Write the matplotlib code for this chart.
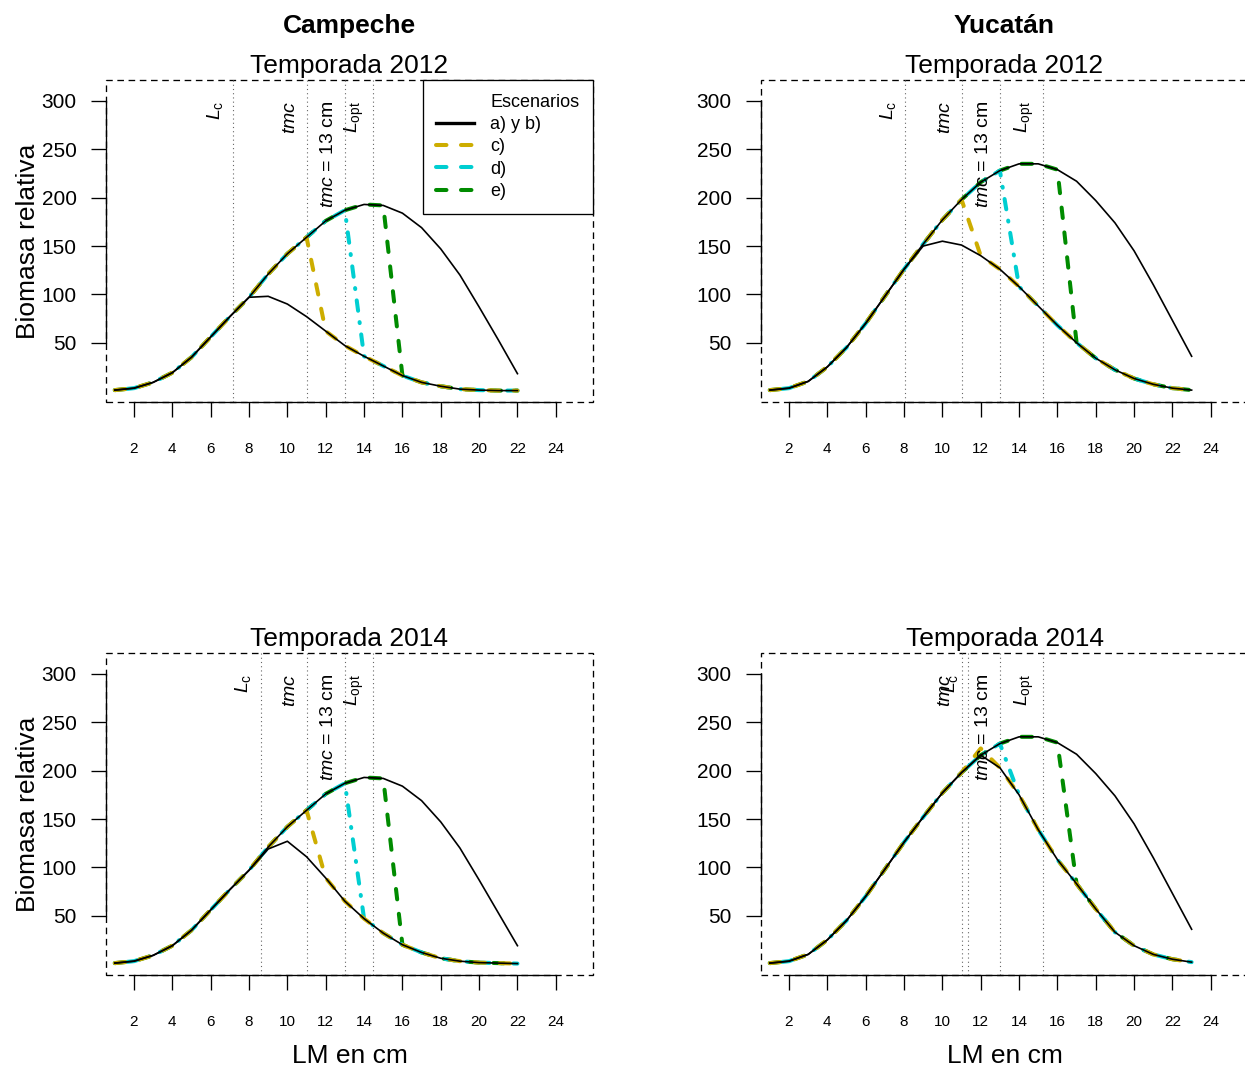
"""
 biomasa_escenarios.py

 Relative biomass per length class (LM, cm) under four management
 scenarios, Campeche and Yucatan, seasons 2012 and 2014.
"""

import matplotlib
matplotlib.use("Agg")
import matplotlib.pyplot as plt
from matplotlib.lines import Line2D
from matplotlib.patches import Rectangle

plt.rcParams["font.family"] = ["Liberation Sans", "DejaVu Sans"]
plt.rcParams["mathtext.fontset"] = "custom"
plt.rcParams["mathtext.rm"] = "Liberation Sans"
plt.rcParams["mathtext.it"] = "Liberation Sans:italic"
plt.rcParams["mathtext.bf"] = "Liberation Sans:bold"


# 1. Data
lm_camp = list(range(1, 23))
lm_yuc = list(range(1, 24))

# Campeche 2012
camp12_hi = [1, 3, 9, 19, 35, 56, 77, 97, 121, 142, 159, 176, 187, 193, 192,
             184, 169, 147, 120, 87, 53, 18]
camp12_lo = [1, 3, 9, 19, 35, 56, 77, 97, 98, 90, 77, 62, 47, 36, 26,
             16, 9, 5, 2, 1, 0.5, 0.5]
camp12_c = [1, 3, 9, 19, 35, 56, 77, 97, 121, 142, 159, 62, 47, 36, 26,
            16, 9, 5, 2, 1, 0.5, 0.5]
camp12_d = [1, 3, 9, 19, 35, 56, 77, 97, 121, 142, 159, 176, 187, 36, 26,
            16, 9, 5, 2, 1, 0.5, 0.5]
camp12_e = [1, 3, 9, 19, 35, 56, 77, 97, 121, 142, 159, 176, 187, 193, 192,
            16, 9, 5, 2, 1, 0.5, 0.5]
camp12_refs = [7.15, 11.0, 13.0, 14.49]

# Yucatan 2012
yuc12_hi = [1, 3, 10, 25, 45, 70, 98, 126, 152, 177, 198, 216, 228, 235, 235,
            229, 217, 197, 174, 145, 110, 73, 36]
yuc12_lo = [1, 3, 10, 25, 45, 70, 98, 126, 150, 155, 151, 140, 126, 108, 88,
            68, 50, 34, 22, 13, 7, 3, 1]
yuc12_c = [1, 3, 10, 25, 45, 70, 98, 126, 152, 177, 198, 140, 126, 108, 88,
           68, 50, 34, 22, 13, 7, 3, 1]
yuc12_d = [1, 3, 10, 25, 45, 70, 98, 126, 152, 177, 198, 216, 228, 108, 88,
           68, 50, 34, 22, 13, 7, 3, 1]
yuc12_e = [1, 3, 10, 25, 45, 70, 98, 126, 152, 177, 198, 216, 228, 235, 235,
           229, 50, 34, 22, 13, 7, 3, 1]
yuc12_refs = [8.07, 11.0, 13.0, 15.27]

# Campeche 2014
camp14_hi = [1, 3, 9, 19, 35, 56, 77, 97, 121, 142, 159, 176, 187, 193, 192,
             184, 169, 147, 120, 87, 53, 19]
camp14_lo = [1, 3, 9, 19, 35, 56, 77, 97, 119, 127, 111, 89, 65, 47, 32,
             20, 12, 6, 3, 1.5, 1, 0.5]
camp14_c = [1, 3, 9, 19, 35, 56, 77, 97, 121, 142, 159, 89, 65, 47, 32,
            20, 12, 6, 3, 1.5, 1, 0.5]
camp14_d = [1, 3, 9, 19, 35, 56, 77, 97, 121, 142, 159, 176, 187, 47, 32,
            20, 12, 6, 3, 1.5, 1, 0.5]
camp14_e = [1, 3, 9, 19, 35, 56, 77, 97, 121, 142, 159, 176, 187, 193, 192,
            20, 12, 6, 3, 1.5, 1, 0.5]
camp14_refs = [8.61, 11.0, 13.0, 14.49]

# Yucatan 2014
yuc14_hi = [1, 3, 10, 25, 45, 70, 98, 126, 152, 177, 198, 216, 228, 235, 235,
            229, 217, 197, 174, 145, 110, 73, 36]
yuc14_lo = [1, 3, 10, 25, 45, 70, 98, 126, 152, 177, 198, 216, 203, 175, 139,
            108, 83, 57, 33, 19, 10, 5, 2]
yuc14_c = [1, 3, 10, 25, 45, 70, 98, 126, 152, 177, 198, 223, 203, 175, 139,
           108, 83, 57, 33, 19, 10, 5, 2]
yuc14_d = [1, 3, 10, 25, 45, 70, 98, 126, 152, 177, 198, 216, 228, 175, 139,
           108, 83, 57, 33, 19, 10, 5, 2]
yuc14_e = [1, 3, 10, 25, 45, 70, 98, 126, 152, 177, 198, 216, 228, 235, 235,
           229, 83, 57, 33, 19, 10, 5, 2]
yuc14_refs = [11.32, 11.0, 13.0, 15.27]

ref_labels = [r"$L_\mathrm{c}$", r"$\mathit{tmc}$",
              r"$\mathit{tmc}$ = 13 cm", r"$L_\mathrm{opt}$"]
legend_labels = ["Escenarios", "a) y b)", "c)", "d)", "e)"]
regions = ["Campeche", "Yucatán"]
seasons = ["Temporada 2012", "Temporada 2014"]
x_ticks = list(range(2, 25, 2))
y_ticks = list(range(50, 301, 50))


# 2. Styles
col_c = "#CDAD00"
col_d = "#00CED1"
col_e = "#008B00"
lw_col = 2.9
dash_ce = (0, (2.6, 3.6))
dash_d = (0, (0.24, 2.84, 2.6, 2.84))
box_dash = (0, (5, 3.5))

W, H = 1245, 1069
fig = plt.figure(figsize=(W / 100, H / 100), dpi=100)


def px_axes(left, top, width=487, height=322):
    return fig.add_axes([left / W, 1 - (top + height) / H, width / W, height / H])


def draw_panel(ax, x, hi, lo, sc_c, sc_d, sc_e, refs, title):
    ax.plot(x, sc_e, color=col_e, lw=lw_col, ls=dash_ce,
            dash_capstyle="round", zorder=2.0)
    ax.plot(x, sc_d, color=col_d, lw=lw_col, ls=dash_d,
            dash_capstyle="round", zorder=2.1)
    ax.plot(x, sc_c, color=col_c, lw=lw_col, ls=dash_ce,
            dash_capstyle="round", zorder=2.2)
    for serie in (hi, lo):
        ax.plot(x, serie, color="black", lw=1.2,
                solid_joinstyle="round", zorder=2.3)

    for xv, lab in zip(refs, ref_labels):
        ax.axvline(xv, color="#666666", lw=0.8, ls=(0, (1, 2.8)), zorder=1.5)
        ax.annotate(lab, xy=(xv, 300), xytext=(-5.4, 0),
                    textcoords="offset points", rotation=90,
                    rotation_mode="anchor", ha="right", va="bottom",
                    fontsize=14, zorder=3)

    ax.set_xlim(0.541, 25.94)
    ax.set_ylim(-11.3, 321.7)
    ax.set_xticks(x_ticks)
    ax.set_yticks(y_ticks)
    ax.tick_params(axis="both", direction="out", length=10.6, width=0.95)
    ax.tick_params(axis="x", labelsize=11, pad=18)
    ax.tick_params(axis="y", labelsize=15, pad=10.5)

    ax.spines[["top", "right"]].set_visible(False)
    ax.spines["left"].set_bounds(50, 300)
    ax.spines["bottom"].set_bounds(2, 24)
    ax.spines["left"].set_linewidth(0.95)
    ax.spines["bottom"].set_linewidth(0.95)
    ax.add_patch(Rectangle((0, 0), 1, 1, transform=ax.transAxes, fill=False,
                           lw=0.95, ls=box_dash, clip_on=False, zorder=1))
    ax.set_title(title, fontsize=19, pad=5)


panels = [
    (106, 80, lm_camp, camp12_hi, camp12_lo, camp12_c, camp12_d, camp12_e, camp12_refs, seasons[0]),
    (761, 80, lm_yuc, yuc12_hi, yuc12_lo, yuc12_c, yuc12_d, yuc12_e, yuc12_refs, seasons[0]),
    (106, 653, lm_camp, camp14_hi, camp14_lo, camp14_c, camp14_d, camp14_e, camp14_refs, seasons[1]),
    (761, 653, lm_yuc, yuc14_hi, yuc14_lo, yuc14_c, yuc14_d, yuc14_e, yuc14_refs, seasons[1]),
]

axes = []
for left, top, *args in panels:
    ax = px_axes(left, top)
    draw_panel(ax, *args)
    axes.append(ax)

# legend only in first panel
handles = [
    Line2D([], [], color="none"),
    Line2D([], [], color="black", lw=2.4),
    Line2D([], [], color=col_c, lw=lw_col, ls=dash_ce, dash_capstyle="round"),
    Line2D([], [], color=col_d, lw=lw_col, ls=dash_ce, dash_capstyle="round"),
    Line2D([], [], color=col_e, lw=lw_col, ls=dash_ce, dash_capstyle="round"),
]
leg = axes[0].legend(handles, legend_labels, loc="upper right",
                     bbox_to_anchor=(1, 1), borderaxespad=0, fontsize=13,
                     frameon=True, fancybox=False, edgecolor="black",
                     framealpha=1, handlelength=2.1, handletextpad=0.9,
                     labelspacing=0.3, borderpad=0.75)
leg.get_frame().set_linewidth(0.95)
leg.set_zorder(5)

# column headers, y labels, x labels
for cx, name in zip([349.5, 1004.5], regions):
    fig.text(cx / W, 1 - 33 / H, name, ha="center", va="baseline",
             fontsize=19, fontweight="bold")
    fig.text(cx / W, 1 - 1063 / H, "LM en cm", ha="center", va="baseline",
             fontsize=19)
for cy in [241, 814]:
    fig.text(35 / W, 1 - cy / H, "Biomasa relativa", rotation=90,
             rotation_mode="anchor", ha="center", va="baseline", fontsize=19)

fig.savefig("out.png", dpi=100)
